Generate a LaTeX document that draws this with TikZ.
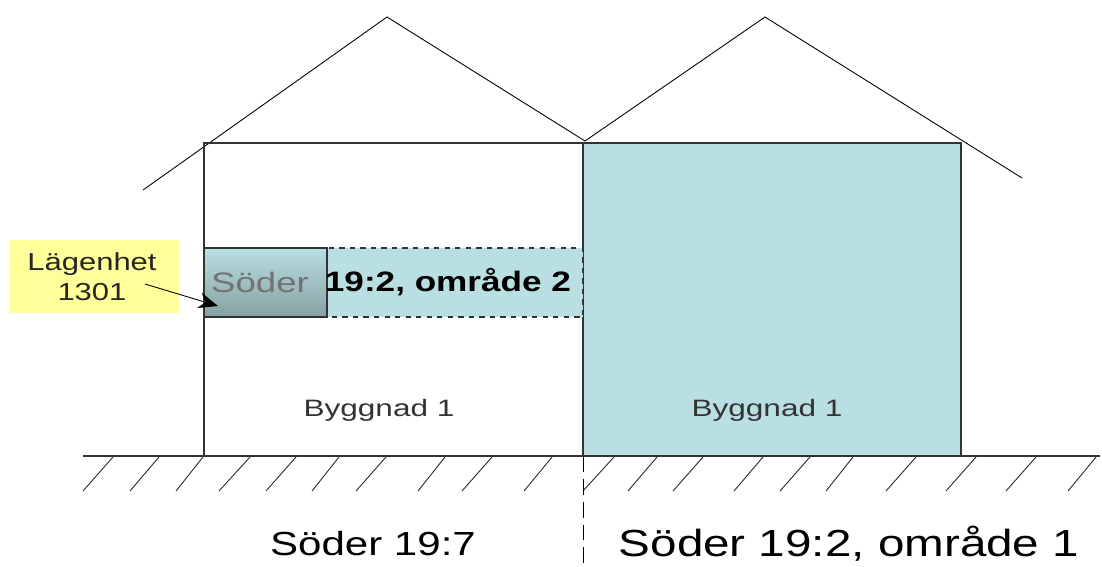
\documentclass[tikz,border=0pt]{standalone}
\usepackage{fontspec}
\setmainfont{Liberation Sans}
\usepackage{xcolor}
\usetikzlibrary{calc,positioning,arrows.meta}
\definecolor{roomblue}{HTML}{B9DFE3}
\definecolor{roomdark}{HTML}{86A0A2}
\definecolor{notelight}{HTML}{FFFF99}
\tikzset{
  wall/.style={draw=black!80,line width=0.75pt},
  thinline/.style={draw=black,line width=0.5pt},
  hatch/.style={draw=black!85,line width=0.5pt},
  wide/.style={xscale=#1,transform shape},
}

\begin{document}
\begin{tikzpicture}[x=0.02cm,y=-0.02cm]
\useasboundingbox (0,0) rectangle (1102,566);

% roofs
\draw [thinline] (143,190) -- (387,17) -- (585,141) -- (765,17) -- (1022,178);
% buildings
\draw [wall] (204,456) -- (204,143) -- (583,143);
\draw [wall,fill=roomblue] (583,143) rectangle (961,456);
\node [text=black!80,wide=1.33,font=\fontsize{13.5}{16}\selectfont] (left) at (379,410) {Byggnad 1};
\node [text=black!80,wide=1.33,font=\fontsize{13.5}{16}\selectfont] (right) at (767,410) {Byggnad 1};
% floor
\draw [wall,dashed,fill=roomblue] (327,248) rectangle (583,317);
\draw [wall,top color=roomblue,bottom color=roomdark] (204,248) rectangle (327,317);
\node [text=black!55,wide=1.3,font=\fontsize{16}{18}\selectfont] (soder) at (260,282) {Söder};
\node [wide=1.25,font=\fontsize{16}{18}\selectfont\bfseries] (omrade) at (448,282) {19:2, område 2};
% note
\node [fill=notelight,minimum width=169*0.02cm,minimum height=73*0.02cm,inner sep=0pt] (note) at (94.5,276.5) {};
\node [text=black!85,wide=1.26,align=center,font=\fontsize{14}{17}\selectfont,xshift=-2*0.02cm] (notetext) at (note.center) {Lägenhet\\1301};
\coordinate (target) at (218,306);
\coordinate (start) at (145,284);
\draw [thinline,-{Stealth[length=11pt,width=9pt]}] (start) -- (target);
% ground
\draw [wall] (83,456) -- (1100,456);
\foreach \a/\b in {113/83,159/130,203/176,250/219,296/266,339/312,386/356,445/418,492/462,552/524,
  614/583,657/628,703/673,763/734,810/780,853/826,916/886,976/946,1036/1006,1096/1068}
  \draw [hatch] (\a,457) -- (\b,491);
\draw [thinline,dash pattern=on 9pt off 4pt] (583,456) -- (583,566);
% names
\node [wide=1.26,font=\fontsize{19}{22}\selectfont] (nameleft) at (373,544) {Söder 19:7};
\node [wide=1.26,font=\fontsize{21.5}{24}\selectfont] (nameright) at (849,544) {Söder 19:2, område 1};

\end{tikzpicture}
\end{document}
